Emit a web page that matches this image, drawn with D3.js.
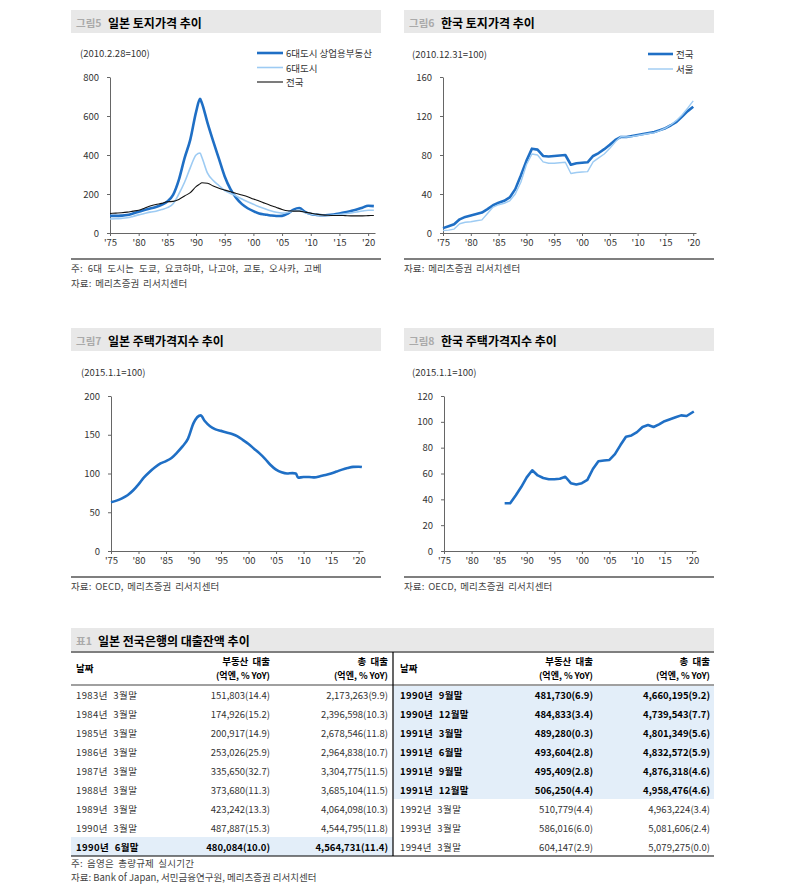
<!DOCTYPE html>
<html>
<head>
<meta charset="utf-8">
<title>일본·한국 토지 및 주택가격 추이</title>
<script src="https://d3js.org/d3.v7.min.js"></script>
<style>
  body { margin: 0; background: #fff; }
  svg { font-family: "Noto Sans CJK KR", "Noto Sans", sans-serif; }
  .axis text { font-size: 9.5px; fill: #333; font-family: "Noto Sans CJK KR", sans-serif; }
  .axis path, .axis line { stroke: #666; }
  .note { font-size: 9.5px; fill: #444; }
</style>
</head>
<body>
<svg width="787" height="885"></svg>
<script>
// ---- 그림5 일본 토지가격 ----
var jpLandYears = [1975,1976,1977,1978,1979,1980,1981,1982,1983,1984,1985,1986,1987,1988,1989,1990,1990.7,1991,1992,1993,1994,1995,1996,1997,1998,1999,2000,2001,2002,2003,2004,2005,2006,2007,2008,2009,2010,2011,2012,2013,2014,2015,2016,2017,2018,2019,2020,2021];
var jpCommercial = [88,88,89,92,100,109,118,126,133,145,162,195,272,384,479,620,688,668,565,470,380,290,225,180,148,127,112,100,95,90,87,88,100,120,128,108,97,93,91,92,95,100,106,113,120,130,140,138];
var jpSixCities = [72,73,75,78,85,93,100,107,112,120,130,150,200,260,335,400,410,390,307,269,243,218,203,190,174,160,147,135,124,114,106,102,105,113,117,105,97,93,91,90,92,95,99,103,108,113,117,117];
var jpNational = [100,102,104,107,112,117,127,138,146,152,160,162,172,190,207,238,252,258,255,241,229,220,212,203,195,186,174,164,152,141,131,121,114,112,112,107,102,97,93,91,90,90,89,88,88,88,89,90];

// ---- 그림6 한국 토지가격 ----
var krLandYears = d3.range(1975, 2021);
var krNational = [5,7,9,14,16.5,18,19.5,21,24.5,28.5,31,33,36.5,45,59,74,86.5,85.5,79,78.5,79,79.5,80,70,71.5,72,72.5,79,82,86,90.5,95.5,98.5,98.5,99.5,100.5,101.5,102.5,103.5,105.5,107.5,110.5,114,119.5,125,129.5];
var krSeoul = [2.5,3,4,9.5,11,11.5,12.5,13.5,20,26.5,29,30.5,33,40,52,70,81,80,73,71.5,71.5,72,72.5,61,62,62.5,63,73,77,81,87,93.5,99,98.5,99,100,101,102,103,105,107.5,111,115.5,121,128,135.5];

// ---- 그림7 일본 주택가격지수 ----
var jpHouseYears = [1975,1976,1977,1978,1979,1980,1981,1982,1983,1984,1985,1986,1987,1988,1989,1990,1991.3,1992,1993,1994,1995,1996,1997,1998,1999,2000,2001,2002,2003,2004,2005,2006,2007,2008,2008.6,2009,2010,2011,2012,2013,2014,2015,2016,2017,2018,2019,2020,2020.6];
var jpHouse = [63,65,68,72,78,86,95,102,108,113,116,120,127,135,145,165,175,168,161,157,155,153,151,148,143,138,132,126,119,111,105,101.5,100,100.5,100,94.5,95.5,95.5,95,96.5,98,100,102.5,105,107,108.5,108.8,108.3];

// ---- 그림8 한국 주택가격지수 ----
var krHouseYears = [1986,1987,1988,1989,1990,1991,1992,1993,1994,1995,1996,1997,1998,1999,2000,2001,2002,2003,2004,2005,2006,2007,2008,2009,2010,2011,2012,2013,2014,2015,2016,2017,2018,2019,2020.3];
var krHouse = [37,37,43,49.5,57,62.5,58.5,56.5,55.5,55.5,56,57.5,52.5,51.5,52.5,55,63.5,69.5,70,70.5,75,82,88.5,89.5,92,96,97.5,96,98,100.5,102,103.5,105,104.5,108];

var yearTicks = [1975,1980,1985,1990,1995,2000,2005,2010,2015,2020];

// ---- 표1 일본 전국은행의 대출잔액 ----
var loanDates = ['1983년 3월말','1984년 3월말','1985년 3월말','1986년 3월말','1987년 3월말','1988년 3월말','1989년 3월말','1990년 3월말','1990년 6월말',
                 '1990년 9월말','1990년 12월말','1991년 3월말','1991년 6월말','1991년 9월말','1991년 12월말','1992년 3월말','1993년 3월말','1994년 3월말'];
var realEstateLoans = ['151,803(14.4)','174,926(15.2)','200,917(14.9)','253,026(25.9)','335,650(32.7)','373,680(11.3)','423,242(13.3)','487,887(15.3)','480,084(10.0)',
                       '481,730(6.9)','484,833(3.4)','489,280(0.3)','493,604(2.8)','495,409(2.8)','506,250(4.4)','510,779(4.4)','586,016(6.0)','604,147(2.9)'];
var totalLoans = ['2,173,263(9.9)','2,396,598(10.3)','2,678,546(11.8)','2,964,838(10.7)','3,304,775(11.5)','3,685,104(11.5)','4,064,098(10.3)','4,544,795(11.8)','4,564,731(11.4)',
                  '4,660,195(9.2)','4,739,543(7.7)','4,801,349(5.6)','4,832,572(5.9)','4,876,318(4.6)','4,958,476(4.6)','4,963,224(3.4)','5,081,606(2.4)','5,079,275(0.0)'];
var underRegulation = [0,0,0,0,0,0,0,0,1, 1,1,1,1,1,1,0,0,0];

var svg = d3.select("svg");
var DARK = "#1f6fc5", LIGHT = "#9dcbf3";

function header(x, y, w, tag, title, tagW) {
  svg.append("rect").attr("x", x).attr("y", y).attr("width", w).attr("height", 23).attr("fill", "#e8e8e8");
  svg.append("text").attr("x", x + 5).attr("y", y + 12).attr("dominant-baseline", "central")
    .style("font-size", "10.5px").style("fill", "#aaa").style("font-weight", "bold").text(tag);
  svg.append("text").attr("x", x + tagW).attr("y", y + 12).attr("dominant-baseline", "central")
    .style("font-size", "12px").style("font-weight", "bold").style("fill", "#000").text(title);
}

// notes: [text, letter-spacing, word-spacing]
function chart(cfg) {
  header(cfg.box[0], cfg.box[1], 310, cfg.tag, cfg.title, 37);
  svg.append("text").attr("x", cfg.unitPos[0]).attr("y", cfg.unitPos[1]).attr("dominant-baseline", "central")
    .style("font-size", "9.5px").style("fill", "#333").text(cfg.unit);

  var x = d3.scaleLinear().domain(cfg.xDomain).range(cfg.xRange);
  var y = d3.scaleLinear().domain(cfg.yDomain).range(cfg.yRange);

  svg.append("g").attr("class", "axis").attr("transform", "translate(0," + cfg.yRange[0] + ")")
    .call(d3.axisBottom(x).tickValues(yearTicks).tickFormat(function(d) { return "'" + String(d).slice(2); })
      .tickSize(3).tickSizeOuter(0).tickPadding(3));
  svg.append("g").attr("class", "axis").attr("transform", "translate(" + cfg.xRange[0] + ",0)")
    .call(d3.axisLeft(y).tickValues(cfg.yTicks).tickSize(3).tickSizeOuter(0).tickPadding(8));

  cfg.series.forEach(function(s) {
    var pts = cfg.years.map(function(yr, i) { return [yr, s.values[i]]; });
    svg.append("path").datum(pts)
      .attr("fill", "none").attr("stroke", s.color).attr("stroke-width", s.width)
      .attr("stroke-linejoin", "round")
      .attr("d", d3.line().x(function(d) { return x(d[0]); }).y(function(d) { return y(d[1]); }).curve(cfg.curve));
  });

  if (cfg.legend) {
    cfg.series.forEach(function(s, i) {
      var ly = cfg.legend[1] + i * cfg.legend[3];
      svg.append("line").attr("x1", cfg.legend[0]).attr("x2", cfg.legend[0] + cfg.legend[2])
        .attr("y1", ly).attr("y2", ly).attr("stroke", s.color).attr("stroke-width", s.width);
      svg.append("text").attr("x", cfg.legend[0] + cfg.legend[2] + 3).attr("y", ly).attr("dominant-baseline", "central")
        .style("font-size", "9.5px").style("fill", "#333").text(s.name);
    });
  }

  svg.append("line").attr("x1", cfg.box[0]).attr("x2", cfg.box[0] + 310)
    .attr("y1", cfg.sepY).attr("y2", cfg.sepY).attr("stroke", "#000").attr("stroke-width", 1.2);
  cfg.notes.forEach(function(n, i) {
    svg.append("text").attr("class", "note").attr("x", cfg.box[0]).attr("y", cfg.sepY + 9 + i * 15)
      .attr("dominant-baseline", "central").style("letter-spacing", n[1] + "px").style("word-spacing", n[2] + "px").text(n[0]);
  });
}

chart({
  box: [71, 10], tag: "그림5", title: "일본 토지가격 추이", unit: "(2010.2.28=100)", unitPos: [80, 53],
  xDomain: [1975, 2021.2], xRange: [110, 375], yDomain: [0, 800], yRange: [233, 77], yTicks: [0, 200, 400, 600, 800],
  years: jpLandYears, curve: d3.curveMonotoneX,
  series: [
    { name: "6대도시 상업용부동산", values: jpCommercial, color: DARK, width: 2.6 },
    { name: "6대도시", values: jpSixCities, color: LIGHT, width: 1.6 },
    { name: "전국", values: jpNational, color: "#111", width: 1.1 }
  ],
  legend: [257, 53, 26, 14.5], sepY: 259,
  notes: [["주: 6대 도시는 도쿄, 요코하마, 나고야, 교토, 오사카, 고베", 0.25, 2.5], ["자료: 메리츠증권 리서치센터", 0.1, 1.5]]
});

chart({
  box: [404, 10], tag: "그림6", title: "한국 토지가격 추이", unit: "(2010.12.31=100)", unitPos: [412, 54],
  xDomain: [1975, 2020.5], xRange: [443, 696], yDomain: [0, 160], yRange: [233, 77], yTicks: [0, 40, 80, 120, 160],
  years: krLandYears, curve: d3.curveLinear,
  series: [
    { name: "전국", values: krNational, color: DARK, width: 2.6 },
    { name: "서울", values: krSeoul, color: LIGHT, width: 1.4 }
  ],
  legend: [648, 54, 25, 15], sepY: 259,
  notes: [["자료: 메리츠증권 리서치센터", 0.1, 1.5]]
});

chart({
  box: [71, 328], tag: "그림7", title: "일본 주택가격지수 추이", unit: "(2015.1.1=100)", unitPos: [81, 372],
  xDomain: [1975, 2020.8], xRange: [111, 363], yDomain: [0, 200], yRange: [551, 396], yTicks: [0, 50, 100, 150, 200],
  years: jpHouseYears, curve: d3.curveMonotoneX,
  series: [{ name: "일본", values: jpHouse, color: DARK, width: 2.6 }],
  sepY: 577, notes: [["자료: OECD, 메리츠증권 리서치센터", 0.1, 1.5]]
});

chart({
  box: [404, 328], tag: "그림8", title: "한국 주택가격지수 추이", unit: "(2015.1.1=100)", unitPos: [412, 372],
  xDomain: [1975, 2020.7], xRange: [444, 696], yDomain: [0, 120], yRange: [551, 396], yTicks: [0, 20, 40, 60, 80, 100, 120],
  years: krHouseYears, curve: d3.curveLinear,
  series: [{ name: "한국", values: krHouse, color: DARK, width: 2.6 }],
  sepY: 577, notes: [["자료: OECD, 메리츠증권 리서치센터", 0.1, 1.5]]
});

// ---- table ----
header(71, 628, 643, "표1", "일본 전국은행의 대출잔액 추이", 27);

var tTop = 652, tHead = 685, tBottom = 856, rowH = (tBottom - tHead) / 9;
var halves = [
  { x0: 71, x1: 393, date: 76, re: 270, tot: 388 },
  { x0: 393, x1: 714, date: 400, re: 593, tot: 710 }
];

halves.forEach(function(h, hi) {
  var rows = d3.range(9).map(function(i) { return hi * 9 + i; });
  rows.forEach(function(r, i) {
    var ry = tHead + i * rowH;
    if (underRegulation[r]) {
      svg.append("rect").attr("x", h.x0).attr("y", ry).attr("width", h.x1 - h.x0).attr("height", rowH).attr("fill", "#e3eef9");
    }
    var cy = ry + rowH / 2;
    var wt = underRegulation[r] ? "bold" : "normal";
    var col = underRegulation[r] ? "#000" : "#333";
    svg.append("text").attr("x", h.date).attr("y", cy).attr("dominant-baseline", "central")
      .style("font-size", "9.5px").style("font-weight", wt).style("fill", col)
      .style("letter-spacing", "0.4px").style("word-spacing", "3px").text(loanDates[r]);
    svg.append("text").attr("x", h.re).attr("y", cy).attr("dominant-baseline", "central").attr("text-anchor", "end")
      .style("font-size", "9.5px").style("font-weight", wt).style("fill", col).text(realEstateLoans[r]);
    svg.append("text").attr("x", h.tot).attr("y", cy).attr("dominant-baseline", "central").attr("text-anchor", "end")
      .style("font-size", "9.5px").style("font-weight", wt).style("fill", col).text(totalLoans[r]);
  });
  svg.append("text").attr("x", h.date).attr("y", 668).attr("dominant-baseline", "central")
    .style("font-size", "9.5px").style("font-weight", "bold").text("날짜");
  [[h.re, "부동산 대출"], [h.tot, "총 대출"]].forEach(function(c) {
    svg.append("text").attr("x", c[0]).attr("y", 661).attr("dominant-baseline", "central").attr("text-anchor", "end")
      .style("font-size", "9.5px").style("font-weight", "bold").style("word-spacing", "2px").text(c[1]);
    svg.append("text").attr("x", c[0]).attr("y", 675).attr("dominant-baseline", "central").attr("text-anchor", "end")
      .style("font-size", "9px").style("font-weight", "bold").text("(억엔, % YoY)");
  });
});

svg.append("line").attr("x1", 71).attr("x2", 714).attr("y1", tTop).attr("y2", tTop).attr("stroke", "#000").attr("stroke-width", 1.2);
svg.append("line").attr("x1", 71).attr("x2", 714).attr("y1", tHead).attr("y2", tHead).attr("stroke", "#a0a0a0").attr("stroke-width", 2);
svg.append("line").attr("x1", 71).attr("x2", 714).attr("y1", tBottom).attr("y2", tBottom).attr("stroke", "#000").attr("stroke-width", 1.2);
svg.append("line").attr("x1", 393).attr("x2", 393).attr("y1", tTop).attr("y2", tBottom).attr("stroke", "#000").attr("stroke-width", 1.2);

svg.append("text").attr("class", "note").attr("x", 71).attr("y", 863).attr("dominant-baseline", "central")
  .style("letter-spacing", "0.2px").style("word-spacing", "2px").text("주: 음영은 총량규제 실시기간");
svg.append("text").attr("class", "note").attr("x", 71).attr("y", 877).attr("dominant-baseline", "central").text("자료: Bank of Japan, 서민금융연구원, 메리츠증권 리서치센터");
</script>
</body>
</html>
